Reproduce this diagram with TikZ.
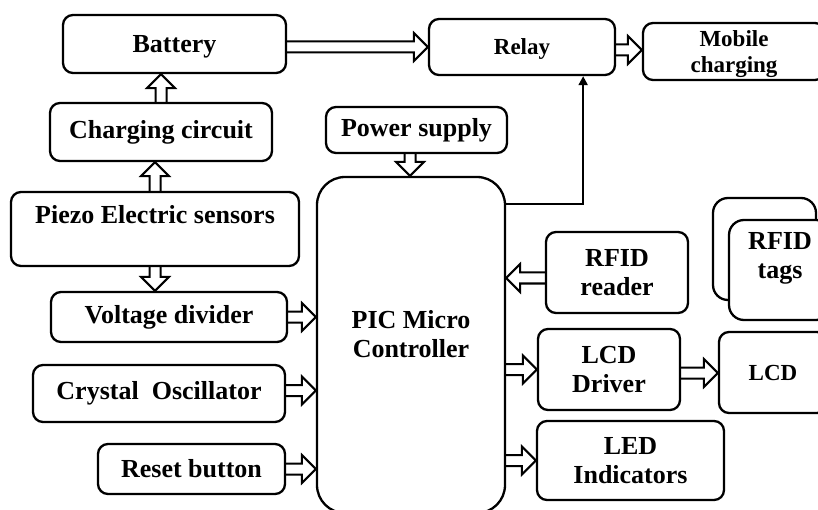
\documentclass[tikz,border=0pt]{standalone}
\usepackage{fontspec}
\setmainfont{Liberation Serif}
\usetikzlibrary{calc,arrows.meta}
\tikzset{
 box/.style={draw, line width=2.3pt, rounded corners=10pt, inner sep=0pt, align=center, font=\fontsize{26}{29}\selectfont\bfseries},
 sbox/.style={box, font=\fontsize{23}{26}\selectfont\bfseries},
 txt/.style={inner sep=0pt, align=center, font=\fontsize{26}{29}\selectfont\bfseries},
 blk/.style={draw, line width=2pt, line join=miter},
 thinarr/.style={line width=2pt, -{Triangle[length=9pt,width=9pt]}},
}
\newcommand\harr[2]{\draw[blk] let \p1=#1, \p2=#2, \n1={ifthenelse(\x2>\x1,1,-1)} in (\x1,{\y1+5.5pt}) -- ({\x2-\n1*14pt},{\y1+5.5pt}) -- ({\x2-\n1*14pt},{\y1+14pt}) -- (\x2,\y1) -- ({\x2-\n1*14pt},{\y1-14pt}) -- ({\x2-\n1*14pt},{\y1-5.5pt}) -- (\x1,{\y1-5.5pt});}
\newcommand\varr[2]{\draw[blk] let \p1=#1, \p2=#2, \n1={ifthenelse(\y2>\y1,1,-1)} in ({\x1+5.5pt},\y1) -- ({\x1+5.5pt},{\y2-\n1*14pt}) -- ({\x1+14pt},{\y2-\n1*14pt}) -- (\x1,\y2) -- ({\x1-14pt},{\y2-\n1*14pt}) -- ({\x1-5.5pt},{\y2-\n1*14pt}) -- ({\x1-5.5pt},\y1);}
\begin{document}
\begin{tikzpicture}[x=1pt,y=-1pt]
\clip (0,0) rectangle (818,510);
\fill[white] (0,0) rectangle (818,510);
% left column
\node[box, text depth=0pt, minimum width=223pt, minimum height=58pt] (bat) at (174.5,44) {Battery};
\node[box, minimum width=222pt, minimum height=58pt] (chg) at (161,132) {Charging circuit};
\node[box, minimum width=288pt, minimum height=74pt] (piezo) at (155,229) {};
\node[txt] at (155,215) {Piezo Electric sensors};
\node[box, minimum width=236pt, minimum height=50pt] (vd) at (169,317) {Voltage divider};
\node[box, minimum width=252pt, minimum height=57pt] (xtal) at (159,393.5) {Crystal~ Oscillator};
\node[box, minimum width=187pt, minimum height=50pt] (rst) at (191.5,469) {Reset button};
% centre
\node[box, minimum width=181pt, minimum height=46pt] (pwr) at (416.5,130) {Power supply};
\node[box, rounded corners=28pt, minimum width=188pt, minimum height=336pt] (pic) at (411,345) {};
\node[txt] at (411,334) {PIC Micro\\Controller};
\node[sbox, text depth=0pt, minimum width=186pt, minimum height=56pt] (relay) at (522,47) {Relay};
\node[sbox, minimum width=182pt, minimum height=57pt] (mob) at (734,51.5) {};
\node[txt, font=\fontsize{23}{26}\selectfont\bfseries] at (734,54) {Mobile\\charging};
% right
\node[box, minimum width=142pt, minimum height=81pt] (rfid) at (617,272.5) {RFID\\reader};
\node[box, rounded corners=15pt, minimum width=103pt, minimum height=102pt] (tagsb) at (764.5,249) {};
\node[box, rounded corners=15pt, fill=white, minimum width=102pt, minimum height=100pt] (tags) at (780,270) {};
\node[txt] at (780,258) {RFID\\tags};
\node[box, minimum width=142pt, minimum height=81pt] (lcdd) at (609,369.5) {LCD\\Driver};
\node[sbox, minimum width=108pt, minimum height=81pt] (lcd) at (773,372.5) {LCD};
\node[box, minimum width=187pt, minimum height=79pt] (led) at (630.5,460.5) {LED\\Indicators};
% block arrows
\varr{(chg.north)}{(bat.south)}
\coordinate (pz) at ($(piezo.north)+(0,0)$);
\varr{(pz)}{(pz |- chg.south)}
\varr{(piezo.south)}{(piezo.south |- vd.north)}
\harr{(vd.east)}{(vd.east -| pic.west)}
\coordinate (xa) at ($(xtal.east)+(0,-3)$);
\harr{(xa)}{(xa -| pic.west)}
\harr{(rst.east)}{(rst.east -| pic.west)}
\coordinate (ps) at ($(pwr.south)+(-6.5,0)$);
\varr{(ps)}{(ps |- pic.north)}
\coordinate (ba) at ($(bat.east)+(0,3)$);
\harr{(ba)}{(ba -| relay.west)}
\coordinate (rm) at ($(relay.east)+(0,3)$);
\harr{(rm)}{(rm -| mob.west)}
\coordinate (ra) at ($(rfid.west)+(0,5.5)$);
\harr{(ra)}{(ra -| pic.east)}
\coordinate (pl) at (lcdd.west -| pic.east);
\harr{(pl)}{(lcdd.west)}
\coordinate (ld) at ($(lcdd.east)+(0,3.5)$);
\harr{(ld)}{(ld -| lcd.west)}
\coordinate (pe) at (led.west -| pic.east);
\harr{(pe)}{(led.west)}
% control line to relay
\coordinate (rl) at ($(relay.south east)+(-33,0)$);
\draw[thinarr] ($(pic.north east)+(0,28)$) -| (rl);
\end{tikzpicture}
\end{document}
